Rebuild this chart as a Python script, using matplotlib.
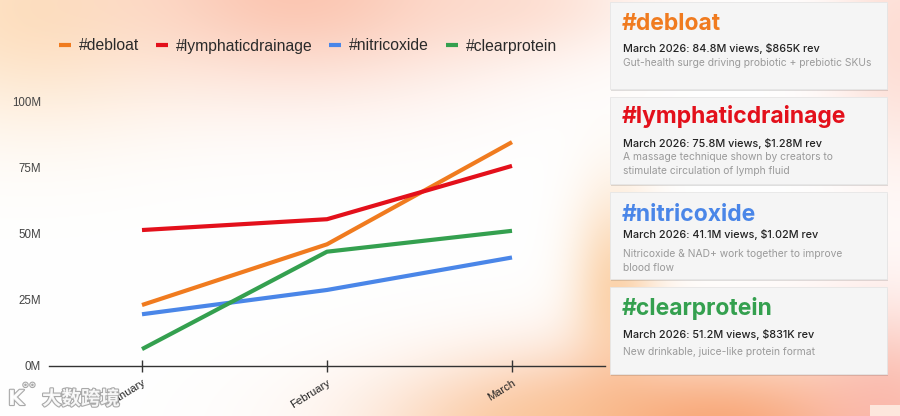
import numpy as np
import matplotlib
matplotlib.use('Agg')
import matplotlib.pyplot as plt
from matplotlib.patches import FancyBboxPatch, Rectangle
import matplotlib.patheffects as pe

months = ['January', 'February', 'March']
tags = ['#debloat', '#lymphaticdrainage', '#nitricoxide', '#clearprotein']
debloat = [23.1, 46.1, 84.8]
lymphatic = [51.5, 55.6, 75.8]
nitric = [19.6, 28.8, 41.1]
clearprotein = [6.4, 43.3, 51.2]
series = [debloat, lymphatic, nitric, clearprotein]
colors = ['#f07b1f', '#e3101b', '#4a86e8', '#34a04f']
y_ticks = [0, 25, 50, 75, 100]

card_sub = ['March 2026: 84.8M views, $865K rev',
            'March 2026: 75.8M views, $1.28M rev',
            'March 2026: 41.1M views, $1.02M rev',
            'March 2026: 51.2M views, $831K rev']
card_desc = ['Gut-health surge driving probiotic + prebiotic SKUs',
             'A massage technique shown by creators to\nstimulate circulation of lymph fluid',
             'Nitricoxide & NAD+ work together to improve\nblood flow',
             'New drinkable, juice-like protein format']

W, H = 900, 416
fig = plt.figure(figsize=(W / 100, H / 100), dpi=100)

# background with soft colour blobs
bg = fig.add_axes([0, 0, 1, 1], zorder=0)
yy, xx = np.mgrid[0:H, 0:W]
img = np.ones((H, W, 3))
blobs = [  # cx, cy, sx, sy, rgb, strength
    (20, 10, 110, 80, (253, 222, 185), 0.85),
    (300, -10, 140, 70, (250, 185, 160), 0.8),
    (520, 0, 90, 40, (252, 205, 185), 0.5),
    (900, 40, 50, 90, (252, 200, 185), 0.6),
    (615, 290, 30, 70, (250, 195, 140), 0.7),
    (700, 430, 180, 55, (248, 160, 110), 0.95),
    (890, 420, 60, 80, (250, 180, 170), 0.8),
    (540, 430, 90, 40, (250, 200, 150), 0.6),
]
for cx, cy, sx, sy, rgb, s in blobs:
    a = s * np.exp(-(((xx - cx) / sx) ** 2 + ((yy - cy) / sy) ** 2) / 2)
    a = a[..., None]
    img = img * (1 - a) + np.array(rgb) / 255 * a
bg.imshow(img, extent=(0, W, H, 0), aspect='auto')
bg.add_patch(Rectangle((870, 405), 30, 11, fc='#fde6dc', ec='none'))
bg.set_xlim(0, W)
bg.set_ylim(H, 0)
bg.axis('off')

# line chart
ax = fig.add_axes([49.5 / W, 50 / H, 555 / W, 264 / H], zorder=1)
ax.patch.set_alpha(0)
x = np.arange(len(months))
for tag, vals, c in zip(tags, series, colors):
    ax.plot(x, vals, color=c, lw=3, label=tag, solid_capstyle='butt')
ax.set_xlim(-0.5, 2.5)
ax.set_ylim(0, 100)
ax.set_xticks(x)
ax.set_xticklabels(months, rotation=32, ha='right', rotation_mode='anchor',
                   fontsize=8, color='#222222', family='Liberation Sans')
ax.set_yticks(y_ticks)
ax.set_yticklabels([f'{v}M' for v in y_ticks], fontsize=8.3, color='#444444',
                   family='Liberation Sans')
ax.tick_params(axis='y', length=0, pad=6)
ax.tick_params(axis='x', direction='inout', length=9, width=1, color='#333333', pad=4)
for s in ['top', 'right', 'left']:
    ax.spines[s].set_visible(False)
ax.spines['bottom'].set_color('#333333')
ax.spines['bottom'].set_linewidth(1)

fig.legend(loc='center', bbox_to_anchor=(308 / W, 1 - 46 / H), ncol=4, frameon=False,
           handlelength=0.75, handletextpad=0.5, columnspacing=1.08,
           prop={'family': 'Liberation Sans', 'size': 11.3}, labelcolor='#2a2a2a')

# cards
ov = fig.add_axes([0, 0, 1, 1], zorder=2)
ov.patch.set_alpha(0)
ov.set_xlim(0, W)
ov.set_ylim(H, 0)
ov.axis('off')
card_top = [2, 97, 192, 287]
card_bot = [89, 184, 279, 374]
title_base = [30, 123, 221, 315]
sub_base = [52, 147, 238, 338]
desc_base = [66, 160, 257, 355]
for i in range(4):
    t, b = card_top[i], card_bot[i]
    ov.add_patch(FancyBboxPatch((611, t + 2), 277, b - t, boxstyle='square,pad=0',
                                fc='#000000', alpha=0.12, ec='none'))
    ov.add_patch(FancyBboxPatch((610, t), 277, b - t, boxstyle='square,pad=0',
                                fc='#f5f5f5', ec='#e6e6e6', lw=0.6))
    ov.text(622, title_base[i], tags[i], fontsize=16.5, fontweight='bold', color=colors[i],
            family='Inter', va='baseline', ha='left')
    ov.text(623, sub_base[i], card_sub[i], fontsize=7.8, color='#222222', family='Inter',
            fontweight='medium', va='baseline', ha='left')
    for k, line in enumerate(card_desc[i].split('\n')):
        ov.text(623, desc_base[i] + 14 * k, line, fontsize=7.4, color='#9a9a9a',
                family='Inter', va='baseline', ha='left')

# watermark
halo = [pe.withStroke(linewidth=1.6, foreground='#a0a0a0')]
ov.text(8, 399, 'K', fontsize=15, color='white', family='DejaVu Sans', va='center',
        fontweight='bold', path_effects=halo, alpha=0.9)
ov.text(22, 389, '°°', fontsize=10, color='white', family='DejaVu Sans', va='center',
        path_effects=halo, alpha=0.9)
ov.text(42, 399, '大数跨境', fontsize=14, color='white', fontweight='bold',
        family=['Noto Sans CJK SC', 'DejaVu Sans'], va='center', path_effects=halo, alpha=0.9)

fig.savefig('out.png', dpi=100)
